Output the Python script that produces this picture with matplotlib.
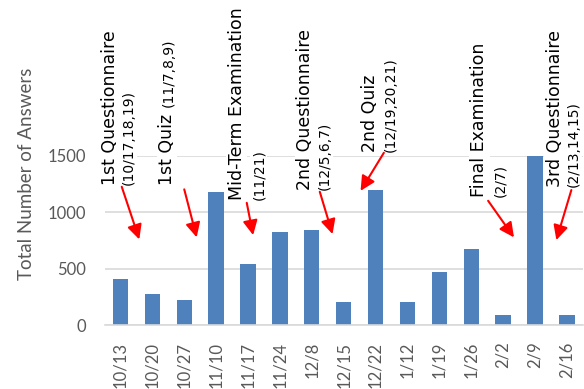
import matplotlib.pyplot as plt

plt.rcParams['font.family'] = ['Lato', 'DejaVu Sans']

# weekly totals
weeks = ['10/13', '10/20', '10/27', '11/10', '11/17', '11/24', '12/8', '12/15',
         '12/22', '1/12', '1/19', '1/26', '2/2', '2/9', '2/16']
answers = [405, 272, 221, 1180, 537, 826, 843, 201, 1195, 202, 472, 673, 86, 1500, 86]

# events written over the bars
events = ['1st Questionnaire', '1st Quiz', 'Mid-Term Examination', '2nd Questionnaire',
          '2nd Quiz', 'Final Examination', '3rd Questionnaire']
event_dates = ['(10/17,18,19)', '(11/7,8,9)', '(11/21)', '(12/5,6,7)',
               '(12/19,20,21)', '(2/7)', '(2/13,14,15)']

# placement in data units: main text (x, bottom y), date text (x, bottom y),
# arrow start, arrow tip
text_pos = [(-0.33, 1239), (1.46, 1239), (3.64, 1106), (5.80, 1195),
            (7.81, 1531), (11.25, 1133), (13.62, 1221)]
date_pos = [(0.25, 1239), (1.52, 1930), (4.34, 1106), (6.41, 1195),
            (8.48, 1531), (11.90, 1133), (14.20, 1221)]
arrow_from = [(0.04, 1224), (2.00, 1201), (3.96, 1082), (6.25, 1180),
              (8.26, 1525), (11.53, 1100), (14.14, 1195)]
arrow_to = [(0.59, 758), (2.39, 776), (4.16, 796), (6.65, 805),
            (7.53, 1188), (12.34, 776), (13.67, 752)]

gray = '#595959'

fig = plt.figure(figsize=(5.84, 3.89), dpi=100)
ax = fig.add_axes([0.179, 0.1645, 0.819, 0.4355])

x = range(len(weeks))
ax.bar(x, answers, width=0.48, color='#4f81bd', zorder=2)

ax.set_xlim(-0.5, len(weeks) - 0.5)
ax.set_ylim(0, 1500)
ax.set_yticks([0, 500, 1000, 1500])
ax.set_xticks(list(x))
ax.set_xticklabels(weeks, rotation=90)
ax.tick_params(axis='both', length=0, labelsize=12, colors=gray)
ax.tick_params(axis='y', pad=13)
ax.tick_params(axis='x', pad=12)
ax.yaxis.grid(True, color='#d9d9d9', lw=1.2, zorder=0)
ax.set_axisbelow(True)
for s in ['top', 'right', 'left']:
    ax.spines[s].set_visible(False)
ax.spines['bottom'].set_color('#d9d9d9')
ax.spines['bottom'].set_linewidth(1.2)
ax.set_ylabel('Total Number of Answers', fontsize=13.5, color=gray)
ax.yaxis.set_label_coords(-0.145, 0.89)

for i in range(len(events)):
    tx, ty = text_pos[i]
    dx, dy = date_pos[i]
    ax.text(tx, ty, events[i], rotation=90, ha='center', va='bottom',
            fontsize=12.5, family='DejaVu Sans', color='black', clip_on=False,
            zorder=4, bbox=dict(facecolor='white', edgecolor='none', pad=1))
    ax.text(dx, dy, event_dates[i], rotation=90, ha='center', va='bottom',
            fontsize=10, family='DejaVu Sans', color='black', clip_on=False,
            zorder=4, bbox=dict(facecolor='white', edgecolor='none', pad=1))
    ax.annotate('', xy=arrow_to[i], xytext=arrow_from[i],
                arrowprops=dict(arrowstyle='-|>', color='red', lw=1.5,
                                mutation_scale=22, shrinkA=0, shrinkB=0),
                annotation_clip=False, zorder=5)

fig.savefig('out.png', dpi=100)
